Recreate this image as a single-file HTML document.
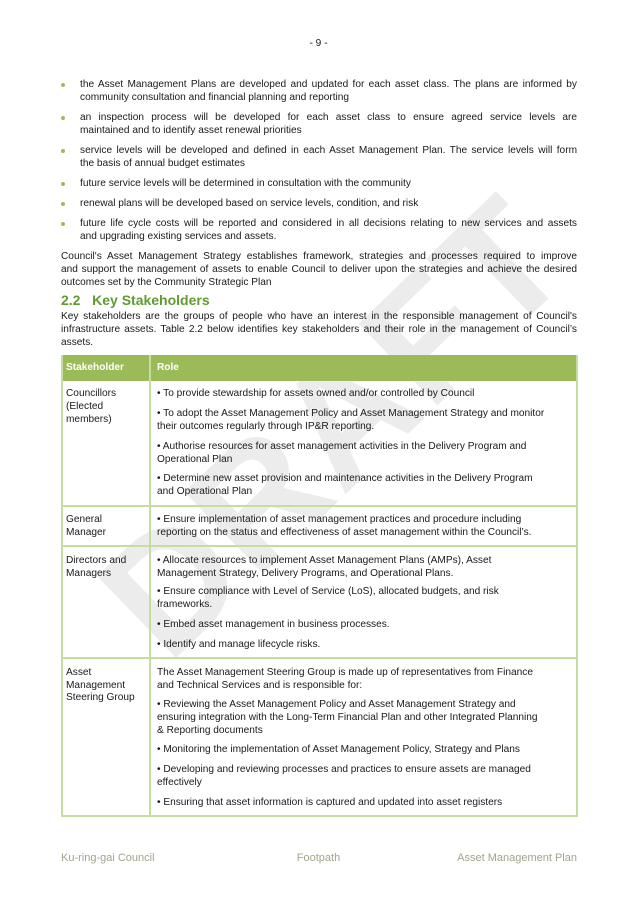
<!DOCTYPE html>
<html><head><meta charset="utf-8"><style>
body{margin:0;background:#fff}
#p{position:relative;width:637px;height:901px;overflow:hidden;font-family:"Liberation Sans",Arial,sans-serif;font-size:10.15px;color:#1a1a1a}
.l{position:absolute;line-height:14px;white-space:nowrap}
.j{white-space:normal;text-align:justify;text-align-last:justify;height:14px;overflow:hidden}
.b{position:absolute;left:61px;width:4px;height:4px;border-radius:2px;background:#9bbb59}
.wm{position:absolute;left:50px;top:340px;width:560px;text-align:center;font-size:165px;font-weight:bold;color:#ececec;transform:rotate(-44deg);line-height:180px;letter-spacing:2px}
.h{position:absolute;background:#c6dca0}
.f{position:absolute;top:852px;color:#a3a38c;font-size:11px}
</style></head><body><div id="p">
<div class="wm">DRAFT</div>
<div class="l" style="left:0;width:637px;text-align:center;top:37px">- 9 -</div>

<div class="b" style="top:83px"></div><div class="b" style="top:116px"></div><div class="b" style="top:149px"></div><div class="b" style="top:182px"></div><div class="b" style="top:202px"></div><div class="b" style="top:222px"></div>
<div class="l j" style="left:80px;width:497px;top:78px">the Asset Management Plans are developed and updated for each asset class. The plans are informed by</div>
<div class="l" style="left:80px;top:91px">community consultation and financial planning and reporting</div>
<div class="l j" style="left:80px;width:497px;top:111px">an inspection process will be developed for each asset class to ensure agreed service levels are</div>
<div class="l" style="left:80px;top:124px">maintained and to identify asset renewal priorities</div>
<div class="l j" style="left:80px;width:497px;top:144px">service levels will be developed and defined in each Asset Management Plan. The service levels will form</div>
<div class="l" style="left:80px;top:157px">the basis of annual budget estimates</div>
<div class="l" style="left:80px;top:177px">future service levels will be determined in consultation with the community</div>
<div class="l" style="left:80px;top:197px">renewal plans will be developed based on service levels, condition, and risk</div>
<div class="l j" style="left:80px;width:497px;top:217px">future life cycle costs will be reported and considered in all decisions relating to new services and assets</div>
<div class="l" style="left:80px;top:230px">and upgrading existing services and assets.</div>

<div class="l j" style="left:61px;width:516px;top:250px">Council's Asset Management Strategy establishes framework, strategies and processes required to improve</div>
<div class="l j" style="left:61px;width:516px;top:263px">and support the management of assets to enable Council to deliver upon the strategies and achieve the desired</div>
<div class="l" style="left:61px;top:276px">outcomes set by the Community Strategic Plan</div>

<div class="l" style="left:61px;top:292px;font-size:14px;font-weight:bold;color:#5f9c2f;line-height:16px">2.2&nbsp;&nbsp;&nbsp;Key Stakeholders</div>
<div class="l j" style="left:61px;width:516px;top:310px">Key stakeholders are the groups of people who have an interest in the responsible management of Council's</div>
<div class="l j" style="left:61px;width:516px;top:323px">infrastructure assets. Table 2.2 below identifies key stakeholders and their role in the management of Council’s</div>
<div class="l" style="left:61px;top:336px">assets.</div>

<div style="position:absolute;left:61px;top:355px;width:516px;height:26px;background:#9bbb59"></div>
<div class="h" style="left:61px;top:355px;width:2px;height:462px"></div>
<div class="h" style="left:576px;top:355px;width:2px;height:462px"></div>
<div class="h" style="left:149px;top:355px;width:2px;height:462px"></div>
<div class="h" style="left:61px;top:505px;width:517px;height:2px"></div>
<div class="h" style="left:61px;top:545px;width:517px;height:2px"></div>
<div class="h" style="left:61px;top:657px;width:517px;height:2px"></div>
<div class="h" style="left:61px;top:815px;width:517px;height:2px"></div>
<div class="l" style="left:66px;top:361px;color:#fff;font-weight:bold">Stakeholder</div>
<div class="l" style="left:157px;top:361px;color:#fff;font-weight:bold">Role</div>

<div class="l" style="left:66px;top:387px">Councillors</div>
<div class="l" style="left:66px;top:400px">(Elected</div>
<div class="l" style="left:66px;top:413px">members)</div>
<div class="l" style="left:157px;top:387px">• To provide stewardship for assets owned and/or controlled by Council</div>
<div class="l" style="left:157px;top:407px">• To adopt the Asset Management Policy and Asset Management Strategy and monitor</div>
<div class="l" style="left:157px;top:420px">their outcomes regularly through IP&amp;R reporting.</div>
<div class="l" style="left:157px;top:440px">• Authorise resources for asset management activities in the Delivery Program and</div>
<div class="l" style="left:157px;top:453px">Operational Plan</div>
<div class="l" style="left:157px;top:472px">• Determine new asset provision and maintenance activities in the Delivery Program</div>
<div class="l" style="left:157px;top:485px">and Operational Plan</div>

<div class="l" style="left:66px;top:513px">General</div>
<div class="l" style="left:66px;top:526px">Manager</div>
<div class="l" style="left:157px;top:513px">• Ensure implementation of asset management practices and procedure including</div>
<div class="l" style="left:157px;top:526px">reporting on the status and effectiveness of asset management within the Council’s.</div>

<div class="l" style="left:66px;top:554px">Directors and</div>
<div class="l" style="left:66px;top:567px">Managers</div>
<div class="l" style="left:157px;top:554px">• Allocate resources to implement Asset Management Plans (AMPs), Asset</div>
<div class="l" style="left:157px;top:567px">Management Strategy, Delivery Programs, and Operational Plans.</div>
<div class="l" style="left:157px;top:585px">• Ensure compliance with Level of Service (LoS), allocated budgets, and risk</div>
<div class="l" style="left:157px;top:598px">frameworks.</div>
<div class="l" style="left:157px;top:618px">• Embed asset management in business processes.</div>
<div class="l" style="left:157px;top:638px">• Identify and manage lifecycle risks.</div>

<div class="l" style="left:66px;top:666px">Asset</div>
<div class="l" style="left:66px;top:679px">Management</div>
<div class="l" style="left:66px;top:691px">Steering Group</div>
<div class="l" style="left:157px;top:666px">The Asset Management Steering Group is made up of representatives from Finance</div>
<div class="l" style="left:157px;top:679px">and Technical Services and is responsible for:</div>
<div class="l" style="left:157px;top:698px">• Reviewing the Asset Management Policy and Asset Management Strategy and</div>
<div class="l" style="left:157px;top:711px">ensuring integration with the Long-Term Financial Plan and other Integrated Planning</div>
<div class="l" style="left:157px;top:724px">&amp; Reporting documents</div>
<div class="l" style="left:157px;top:743px">• Monitoring the implementation of Asset Management Policy, Strategy and Plans</div>
<div class="l" style="left:157px;top:763px">• Developing and reviewing processes and practices to ensure assets are managed</div>
<div class="l" style="left:157px;top:776px">effectively</div>
<div class="l" style="left:157px;top:796px">• Ensuring that asset information is captured and updated into asset registers</div>

<div class="f" style="left:61px">Ku-ring-gai Council</div>
<div class="f" style="left:0;width:637px;text-align:center">Footpath</div>
<div class="f" style="right:60px">Asset Management Plan</div>
</div></body></html>
